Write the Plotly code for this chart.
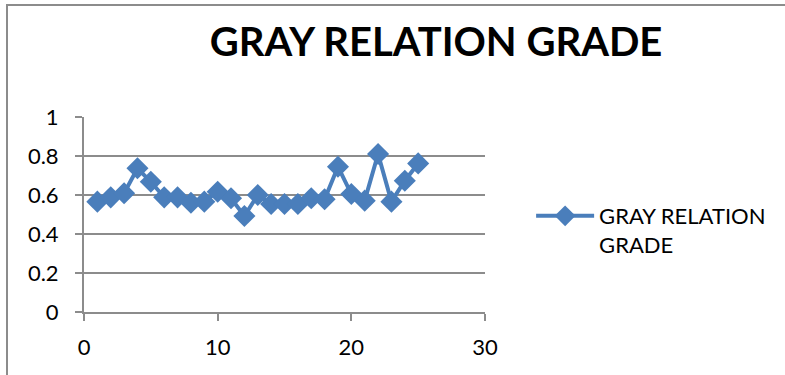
import plotly.graph_objects as go

x_vals = list(range(1, 26))
grade = [0.566, 0.588, 0.609, 0.737, 0.668, 0.588, 0.588, 0.560, 0.566, 0.617,
         0.583, 0.492, 0.600, 0.554, 0.554, 0.554, 0.583, 0.578, 0.745, 0.605,
         0.571, 0.810, 0.566, 0.673, 0.762]
series_name = "GRAY RELATION<br>GRADE"
title_text = "GRAY RELATION GRADE"
x_ticks = [0, 10, 20, 30]
y_ticks = [0, 0.2, 0.4, 0.6, 0.8, 1]
y_tick_labels = ["0", "0.2", "0.4", "0.6", "0.8", "1"]

blue = "#4A7EBB"
grid = "#8C8C8C"

fig = go.Figure()
fig.add_trace(go.Scatter(
    x=x_vals, y=grade, mode="lines+markers", name=series_name,
    line=dict(color=blue, width=4),
    marker=dict(symbol="diamond", size=17, color=blue),
))

fig.update_layout(
    width=785, height=375,
    margin=dict(l=84, r=300, t=117, b=63),
    paper_bgcolor="white", plot_bgcolor="white",
    font=dict(family="Lato", color="black", size=22),
    title=dict(text="<b>" + title_text + "</b>", x=436/785, xanchor="center",
               y=1 - 42/375, yanchor="middle",
               font=dict(family="Lato", size=40, color="black")),
    showlegend=True,
    legend=dict(x=1.115, y=0.60, xanchor="left", yanchor="top",
                font=dict(family="Lato", size=22, color="black"),
                valign="top", itemwidth=58, bgcolor="rgba(0,0,0,0)"),
    xaxis=dict(range=[0, 30], tickvals=x_ticks, showgrid=False, zeroline=False,
               showline=True, linecolor=grid, linewidth=2,
               ticks="outside", ticklen=7, tickcolor=grid, tickwidth=2,
               ticklabelstandoff=8, tickfont=dict(size=22)),
    yaxis=dict(range=[0, 1], tickvals=y_ticks, ticktext=y_tick_labels,
               showgrid=True, gridcolor=grid, gridwidth=2, zeroline=False,
               showline=True, linecolor=grid, linewidth=2,
               ticks="outside", ticklen=7, tickcolor=grid, tickwidth=2,
               ticklabelstandoff=12, tickfont=dict(size=22)),
    shapes=[dict(type="rect", xref="paper", yref="paper",
                 x0=(7 - 84) / 401, x1=2.5, y0=-1, y1=(312 - 5) / 195,
                 line=dict(color="#8C8C8C", width=2), fillcolor="rgba(0,0,0,0)",
                 layer="below")],
)

fig.write_html("out.html", config={"displayModeBar": False},
               post_script="document.body.style.margin='0';")
